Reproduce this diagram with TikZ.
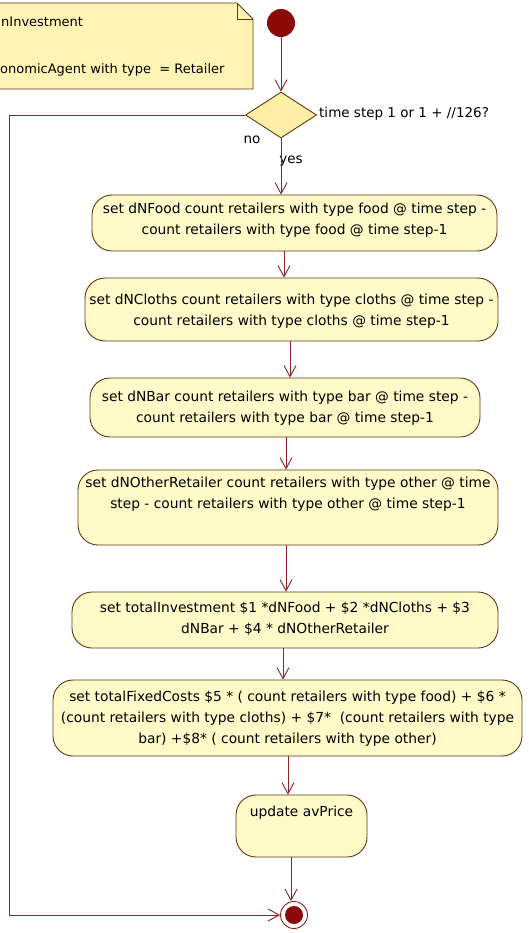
\documentclass[tikz,border=0pt]{standalone}
\usepackage{fontspec}
\setmainfont{DejaVu Sans}
\usetikzlibrary{arrows.meta,shapes.geometric}
\definecolor{umlred}{RGB}{140,10,10}
\definecolor{flowline}{RGB}{140,35,35}
\definecolor{edgebrown}{RGB}{95,55,20}
\definecolor{actfill}{RGB}{255,250,200}
\definecolor{notefill}{RGB}{255,244,180}
\definecolor{decfill}{RGB}{255,238,165}

\begin{document}
\begin{tikzpicture}[x=1pt,y=-1pt,
  actbox/.style={draw=edgebrown, fill=actfill, rounded corners=20pt, line width=0.9pt, inner sep=0pt},
  acttext/.style={align=center, font=\fontsize{13.8}{21}\selectfont, inner sep=0pt},
  flow/.style={draw=flowline, line width=0.9pt, -{Straight Barb[length=11pt,width=12pt]}},
  lbl/.style={font=\fontsize{13.5}{16}\selectfont, inner sep=0pt},
]
\useasboundingbox (0,0) rectangle (529,933);
\fill[white] (0,0) rectangle (529,933);

% note with folded corner
\draw[draw=edgebrown, fill=notefill, line width=0.9pt]
  (-5,3) -- (237,3) -- (253,19) -- (253,89) -- (-5,89) -- cycle;
\draw[draw=edgebrown, line width=0.9pt] (237,3) -- (237,19) -- (253,19);
\node[lbl, anchor=west, font=\fontsize{13}{16}\selectfont] (note1) at (1,22) {nInvestment};
\node[lbl, anchor=west, font=\fontsize{13}{16}\selectfont] (note2) at (0,70) {onomicAgent with type\ \ = Retailer};

% initial node and decision
\node[circle, fill=umlred, minimum size=28pt, inner sep=0pt] (start) at (281,23) {};
\node[diamond, draw=edgebrown, fill=decfill, line width=0.9pt, minimum width=71pt, minimum height=46pt, inner sep=0pt] (dec) at (281,115) {};
\node[lbl, anchor=west] (guard) at (319,114) {time step 1 or 1 + //126?};
\node[lbl] (no) at (252,140) {no};
\node[lbl] (yes) at (291,161) {yes};

% action states
\node[actbox, minimum width=405pt, minimum height=56pt] (b1) at (294.5,223) {};
\node[acttext] (t1) at (294.5,220) {set dNFood count retailers with type food @ time step -\\count retailers with type food @ time step-1};

\node[actbox, minimum width=413pt, minimum height=63pt] (b2) at (291.5,309.5) {};
\node[acttext] (t2) at (291.5,311) {set dNCloths count retailers with type cloths @ time step -\\count retailers with type cloths @ time step-1};

\node[actbox, minimum width=390pt, minimum height=59pt] (b3) at (285,407.5) {};
\node[acttext] (t3) at (285,408) {set dNBar count retailers with type bar @ time step -\\count retailers with type bar @ time step-1};

\node[actbox, minimum width=420pt, minimum height=75pt] (b4) at (288,507.5) {};
\node[acttext] (t4) at (288,494) {set dNOtherRetailer count retailers with type other @ time\\step - count retailers with type other @ time step-1};

\node[actbox, minimum width=426pt, minimum height=56pt] (b5) at (285,620) {};
\node[acttext] (t5) at (285,618.5) {set totalInvestment \$1 *dNFood + \$2 *dNCloths + \$3\\dNBar + \$4 * dNOtherRetailer};

\node[actbox, minimum width=469pt, minimum height=76pt] (b6) at (287.5,718) {};
\node[acttext] (t6) at (287.5,719) {set totalFixedCosts \$5 * ( count retailers with type food) + \$6 *\\(count retailers with type cloths) + \$7*\ \ (count retailers with type\\bar) +\$8* ( count retailers with type other)};

\node[actbox, minimum width=131pt, minimum height=62pt] (b7) at (301.5,826) {};
\node[acttext] (t7) at (301.5,813) {update avPrice};

% final node
\node[circle, draw=flowline, line width=0.9pt, minimum size=27pt, inner sep=0pt] (fin) at (294,915) {};
\node[circle, fill=umlred, minimum size=18pt, inner sep=0pt] (fincore) at (fin) {};

% connector columns
\coordinate (c12) at (284,0);
\coordinate (c23) at (290,0);
\coordinate (c34) at (286,0);
\coordinate (c45) at (286,0);
\coordinate (c56) at (283,0);
\coordinate (c67) at (288,0);
\coordinate (c7f) at (291,0);
\coordinate (loopx) at (9,0);

% control flow
\draw[flow] (start) -- (dec);
\draw[flow] (dec.south) -- (b1.north -| dec.south);
\draw[flow] (b1.south -| c12) -- (b2.north -| c12);
\draw[flow] (b2.south -| c23) -- (b3.north -| c23);
\draw[flow] (b3.south -| c34) -- (b4.north -| c34);
\draw[flow] (b4.south -| c45) -- (b5.north -| c45);
\draw[flow] (b5.south -| c56) -- (b6.north -| c56);
\draw[flow] (b6.south -| c67) -- (b7.north -| c67);
\draw[flow] (b7.south -| c7f) -- (fin.north -| c7f);
\draw[flow] (dec.west) -- (dec.west -| loopx) |- (fin.west);
\end{tikzpicture}
\end{document}
